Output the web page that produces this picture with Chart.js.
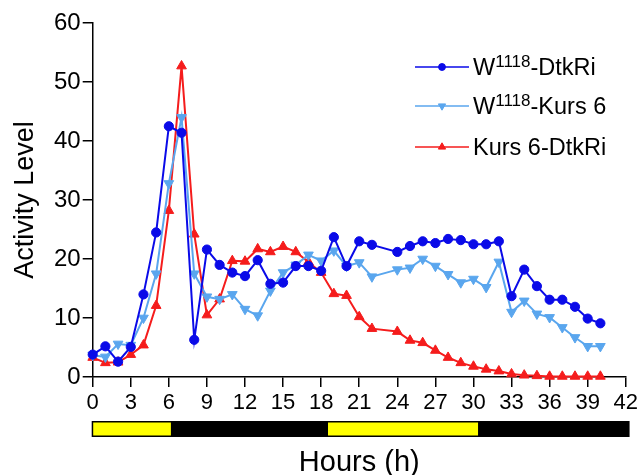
<!DOCTYPE html>
<html>
<head>
<meta charset="utf-8">
<script src="https://cdn.jsdelivr.net/npm/chart.js@4.4.1/dist/chart.umd.min.js"></script>
<style>
html,body{margin:0;padding:0;background:#fff;}
#wrap{position:relative;width:641px;height:475px;overflow:hidden;}
#c{position:absolute;left:0;top:0;}
.item{position:absolute;left:414px;height:30px;display:flex;align-items:center;font-family:"Liberation Sans",Arial,sans-serif;font-size:23.5px;color:#000;white-space:nowrap;}
.item canvas{display:block;margin-right:3px;}
.sup{font-size:17px;position:relative;top:-8px;}
</style>
</head>
<body>
<div id="wrap">
<canvas id="c" width="641" height="475"></canvas>
<div class="item" style="top:52px"><canvas id="lg0" width="56" height="20"></canvas><span>W<span class="sup">1118</span>-DtkRi</span></div>
<div class="item" style="top:91px"><canvas id="lg1" width="56" height="20"></canvas><span>W<span class="sup">1118</span>-Kurs 6</span></div>
<div class="item" style="top:132px"><canvas id="lg2" width="56" height="20"></canvas><span>Kurs 6-DtkRi</span></div>
</div>
<script>
// ---- data (hour 23 not sampled in the source figure) ----
const hours = [0,1,2,3,4,5,6,7,8,9,10,11,12,13,14,15,16,17,18,19,20,21,22,24,25,26,27,28,29,30,31,32,33,34,35,36,37,38,39,40];
const w1118DtkRi = [3.8,5.2,2.6,5.1,14.0,24.5,42.5,41.4,6.3,21.6,19.0,17.7,17.1,19.8,15.8,16.0,18.8,18.8,18.0,23.7,18.8,23.0,22.4,21.2,22.2,23.0,22.7,23.4,23.2,22.5,22.5,23.0,13.7,18.2,15.4,13.1,13.1,11.9,9.9,9.1];
const w1118Kurs6 = [3.7,3.4,5.6,5.4,10.0,17.5,32.8,44.0,17.5,13.6,13.2,14.0,11.5,10.4,14.6,17.7,19.0,20.7,19.7,21.4,18.8,19.4,17.0,18.2,18.5,20.0,18.8,17.4,16.0,16.6,15.2,19.5,11.0,12.9,10.7,10.1,8.4,6.7,5.2,5.2];
const kurs6DtkRi = [3.3,2.4,2.5,3.8,5.4,12.1,28.2,52.7,24.2,10.5,13.2,19.7,19.6,21.7,21.2,22.1,21.2,19.5,17.7,14.1,13.8,10.2,8.2,7.7,6.2,5.8,4.5,3.3,2.4,1.8,1.3,1.0,0.5,0.3,0.2,0.1,0.1,0.1,0.1,0.1];
const seriesNames = ['W1118-DtkRi','W1118-Kurs 6','Kurs 6-DtkRi'];
const xTickLabels = [0,3,6,9,12,15,18,21,24,27,30,33,36,39,42];
const yTickLabels = [0,10,20,30,40,50,60];
const lightStart = [0, 18.5];
const lightEnd = [6.2, 30.4];
const barStart = 0, barEnd = 42.3;

const FONT = '"Liberation Sans", Arial, sans-serif';
const colors = ['#0a0ae8', '#5aa6ee', '#f51c1c'];
const styles = [
  {pointStyle:'circle', radius:4.6, rotation:0},
  {pointStyle:'triangle', radius:5.6, rotation:180},
  {pointStyle:'triangle', radius:5.6, rotation:0}
];
const seriesData = [w1118DtkRi, w1118Kurs6, kurs6DtkRi];

const datasets = seriesData.map((arr, i) => ({
  label: seriesNames[i],
  data: hours.map((h, k) => ({x: h, y: arr[k]})),
  borderColor: colors[i],
  backgroundColor: colors[i],
  pointBackgroundColor: colors[i],
  pointBorderColor: colors[i],
  borderWidth: 2,
  pointStyle: styles[i].pointStyle,
  pointRadius: styles[i].radius,
  pointRotation: styles[i].rotation,
  pointBorderWidth: 1,
  tension: 0,
  clip: false
}));

const dayNightBar = {
  id: 'dayNightBar',
  afterDraw(chart) {
    const ctx = chart.ctx, xs = chart.scales.x;
    const top = chart.chartArea.bottom + 44, h = 16;
    ctx.save();
    const x0 = xs.getPixelForValue(barStart) - 1, x1 = xs.getPixelForValue(barEnd);
    ctx.fillStyle = '#000';
    ctx.fillRect(x0, top, x1 - x0, h);
    ctx.fillStyle = '#ffff00';
    for (let i = 0; i < lightStart.length; i++) {
      const a = xs.getPixelForValue(lightStart[i]), b = xs.getPixelForValue(lightEnd[i]);
      ctx.fillRect(a + 0.5, top + 1.5, b - a - 1, h - 3);
    }
    ctx.restore();
  }
};

new Chart(document.getElementById('c'), {
  type: 'line',
  data: {datasets},
  plugins: [dayNightBar],
  options: {
    responsive: false,
    animation: false,
    devicePixelRatio: 1,
    layout: {padding: {left: 0, top: 23, right: 13.5, bottom: 0}},
    plugins: {legend: {display: false}, tooltip: {enabled: false}},
    scales: {
      x: {
        type: 'linear', min: 0, max: 42,
        afterBuildTicks: s => { s.ticks = xTickLabels.map(v => ({value: v})); },
        afterFit: s => { s.height = 98; },
        ticks: {color: '#000', font: {family: FONT, size: 22}, padding: 3, maxRotation: 0, autoSkip: false},
        grid: {display: true, drawOnChartArea: false, drawTicks: true, tickLength: 10, color: '#000', lineWidth: 1.5},
        border: {display: true, color: '#000', width: 1.5},
        title: {display: true, text: 'Hours (h)', color: '#000', font: {family: FONT, size: 29, lineHeight: 0.8}, padding: {top: 0, bottom: 0}}
      },
      y: {
        type: 'linear', min: 0, max: 60,
        afterBuildTicks: s => { s.ticks = yTickLabels.map(v => ({value: v})); },
        afterFit: s => { s.width = 92.7; },
        ticks: {color: '#000', font: {family: FONT, size: 24}, padding: 2},
        grid: {display: true, drawOnChartArea: false, drawTicks: true, tickLength: 10, color: '#000', lineWidth: 1.5},
        border: {display: true, color: '#000', width: 1.5},
        title: {display: true, text: 'Activity Level', color: '#000', font: {family: FONT, size: 27}, padding: {top: 9, bottom: 0}}
      }
    }
  }
});

// legend samples: line + marker, drawn with Chart.js's point helper
for (let i = 0; i < 3; i++) {
  const c = document.getElementById('lg' + i).getContext('2d');
  c.strokeStyle = colors[i]; c.lineWidth = 1.6;
  c.beginPath(); c.moveTo(1, 10); c.lineTo(55, 10); c.stroke();
  c.fillStyle = colors[i]; c.strokeStyle = colors[i]; c.lineWidth = 1;
  Chart.helpers.drawPoint(c, {pointStyle: styles[i].pointStyle, radius: styles[i].radius * 0.75, rotation: styles[i].rotation, borderWidth: 1}, 28, 10);
}
</script>
</body>
</html>
